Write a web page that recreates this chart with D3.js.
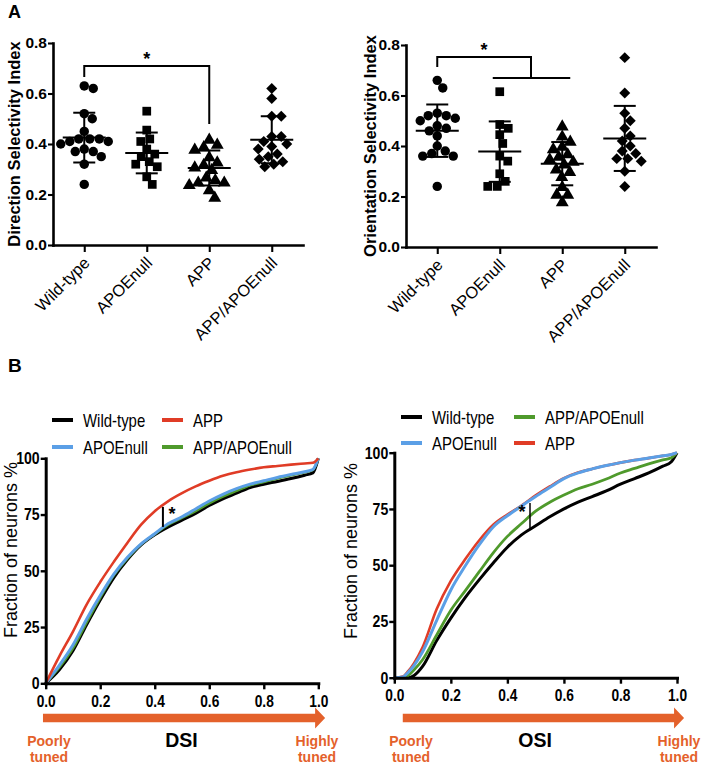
<!DOCTYPE html>
<html><head><meta charset="utf-8">
<script src="https://cdn.jsdelivr.net/npm/d3@7"></script>
<style>
body{margin:0;background:#fff}
svg{display:block}
text{font-family:"Liberation Sans",Arial,sans-serif;fill:#000}
</style>
</head><body>
<svg id="c" width="702" height="764"></svg>
<script>
// ---------------- DATA ----------------
const groups = ["Wild-type","APOEnull","APP","APP/APOEnull"];
const yTicksA = [0,0.2,0.4,0.6,0.8];

const dsiWT      = [0.63,0.62,0.52,0.50,0.45,0.42,0.42,0.42,0.41,0.41,0.40,0.38,0.37,0.37,0.35,0.32,0.24];
const dsiAPOE    = [0.53,0.455,0.42,0.41,0.38,0.36,0.35,0.33,0.32,0.31,0.27,0.24];
const dsiAPP     = [0.42,0.40,0.39,0.38,0.35,0.33,0.32,0.31,0.30,0.27,0.26,0.25,0.25,0.24,0.22,0.19];
const dsiAPPAPOE = [0.62,0.58,0.51,0.51,0.43,0.43,0.41,0.40,0.39,0.38,0.36,0.35,0.34,0.33,0.32,0.31];

const osiWT      = [0.66,0.63,0.53,0.52,0.52,0.51,0.50,0.48,0.47,0.46,0.44,0.40,0.38,0.37,0.36,0.36,0.24];
const osiAPOE    = [0.615,0.485,0.47,0.445,0.41,0.36,0.34,0.29,0.26,0.24,0.24];
const osiAPP     = [0.48,0.44,0.42,0.40,0.39,0.37,0.36,0.35,0.34,0.33,0.31,0.30,0.28,0.24,0.21,0.21,0.18];
const osiAPPAPOE = [0.75,0.61,0.53,0.50,0.47,0.44,0.42,0.40,0.38,0.37,0.35,0.35,0.34,0.30,0.24];

const xTicksB = [0,0.2,0.4,0.6,0.8,1.0];
const yTicksB = [0,25,50,75,100];

const dsiGrid       = [0,0.05,0.1,0.15,0.2,0.25,0.3,0.35,0.4,0.45,0.5,0.55,0.6,0.65,0.7,0.75,0.8,0.85,0.9,0.95,0.98,1.0];
const cdfDsiWT      = [0,6,14.5,26,37,47,55,61.5,66,69.5,72.5,75.5,79,82,84.5,87,88.5,89.7,91,92.5,93.5,100];
const cdfDsiAPOE    = [0,8,17,28.5,39,48.5,56,62,66.5,71,74,77.5,81,84,86.5,88.5,90,91.5,92.8,94,95,100];
const cdfDsiAPP     = [0,12,23,35,45,54,62.5,70.5,76.5,81,84.5,87.5,90,92.2,93.8,95,96,96.6,97.2,97.7,98,100];
const cdfDsiAPPAPOE = [0,7,15.5,27,38,48,55.5,61.8,66.3,70.5,73.5,76.5,80,83,85.5,88,89.5,91,92.5,93.8,94.8,100];

const osiGrid       = [0,0.03,0.05,0.07,0.1,0.15,0.2,0.25,0.3,0.35,0.4,0.45,0.5,0.55,0.6,0.65,0.7,0.75,0.8,0.85,0.9,0.95,0.98,1.0];
const cdfOsiWT      = [0,0,0,1,5,16.5,26.5,35.5,43.5,51,58,63.5,67.5,71.5,75,78,80.5,83,86,88.5,91,94,96,100];
const cdfOsiAPOE    = [0,0.3,2.5,5.5,11.5,25.5,39,49.5,59,67,72,76.3,80.5,84.5,88.5,91,92.8,94.3,95.6,96.7,97.6,98.6,99.2,100];
const cdfOsiAPP     = [0,0.5,3,6.5,13.5,30.5,43,52.5,61,68,72.5,76.5,81,85,88.7,91.2,92.8,94.3,95.6,96.7,97.6,98.6,99.2,100];
const cdfOsiAPPAPOE = [0,0,1,3.5,8,19,30,38.5,47,55.5,62.8,68.5,74,78,81.2,84,86,88.3,91,93,95,96.8,97.8,100];

// ---------------- STYLE ----------------
const COL = {wt:"#000000", apoe:"#5b9fe6", app:"#e03c26", appapoe:"#4f9a2c", orange:"#e4612b"};
const NARROW = 0.83;
const svg = d3.select("#c");

// ---------------- HELPERS ----------------
function swarm(vals, y, diam){
  const pts = vals.map(v => ({v, y:y(v)})).sort((a,b)=>a.y-b.y);
  const placed = [];
  pts.forEach(p=>{
    let best = null;
    for(let k=0;k<120 && best===null;k++){
      const c = k===0 ? [0] : [k*0.5, -k*0.5];
      for(const dx of c){
        if(placed.every(q => (q.dx-dx)**2 + (q.y-p.y)**2 >= diam*diam)){ best = dx; break; }
      }
    }
    p.dx = best; placed.push(p);
  });
  return pts;
}

function styleAxis(sel, w){
  sel.select(".domain").attr("stroke","#000").attr("stroke-width",w).attr("stroke-linecap","square");
  sel.selectAll(".tick line").attr("stroke","#000").attr("stroke-width",w*0.8);
}

function narrowText(g, x, y, txt, size, opts={}){
  const t = g.append("text").attr("transform",`translate(${x},${y}) scale(${NARROW},1)`)
    .attr("font-size",size).text(txt);
  if(opts.bold) t.attr("font-weight","bold");
  if(opts.anchor) t.attr("text-anchor",opts.anchor);
  return t;
}

function panelA(cfg){
  const x = d3.scalePoint().domain(groups).range([cfg.x0, cfg.x1]).padding(0.5);
  const y = d3.scaleLinear().domain([0,0.8]).range([cfg.yb, cfg.yt]);
  const g = svg.append("g");

  const ya = g.append("g").attr("transform",`translate(${cfg.x0},0)`)
    .call(d3.axisLeft(y).tickValues(yTicksA).tickFormat(d3.format(".1f")).tickSize(5).tickSizeOuter(0).tickPadding(1));
  styleAxis(ya, 2.6);
  ya.selectAll(".tick text").attr("font-size",15.5).attr("font-weight","bold");

  const xa = g.append("g").attr("transform",`translate(0,${cfg.yb})`)
    .call(d3.axisBottom(x).tickSize(7).tickSizeOuter(0));
  styleAxis(xa, 2.6);
  xa.selectAll(".tick text").attr("font-size",16.5).attr("x",0).attr("y",0).attr("dy",0)
    .attr("text-anchor","end").attr("transform","translate(6,19) rotate(-45)");

  g.append("text").attr("transform",`translate(${cfg.titleX},${(cfg.yb+cfg.yt)/2}) rotate(-90)`)
    .attr("text-anchor","middle").attr("font-size",16.5).attr("font-weight","bold").text(cfg.title);

  const shapes = [d3.symbolCircle, d3.symbolSquare, d3.symbolTriangle, d3.symbolSquare];
  const sizes  = [70, 76, 72, 60];
  const rots   = [0,0,0,45];
  cfg.data.forEach((vals,i)=>{
    const cx = x(groups[i]);
    const pts = swarm(vals, y, 9.2);
    g.selectAll(null).data(pts).join("path")
      .attr("d", d3.symbol().type(shapes[i]).size(sizes[i]))
      .attr("transform", d => `translate(${cx+d.dx},${d.y + (i===2?1:0)}) rotate(${rots[i]})`)
      .attr("fill","#000");
    const m = d3.mean(vals), sd = d3.deviation(vals);
    const lines = [
      [cx-21.5, y(m), cx+21.5, y(m)],
      [cx-11, y(m+sd), cx+11, y(m+sd)],
      [cx-11, y(m-sd), cx+11, y(m-sd)],
      [cx, y(m+sd), cx, y(m-sd)]
    ];
    g.selectAll(null).data(lines).join("line")
      .attr("x1",d=>d[0]).attr("y1",d=>d[1]).attr("x2",d=>d[2]).attr("y2",d=>d[3])
      .attr("stroke","#000").attr("stroke-width",2);
  });
  cfg.bracket(g, x, y);
  return {x,y};
}

function panelB(cfg){
  const x = d3.scaleLinear().domain([0,1]).range([cfg.x0, cfg.x1]);
  const y = d3.scaleLinear().domain([0,100]).range([cfg.yb, cfg.yt]);
  const g = svg.append("g");

  const line = d3.line().x(d=>x(d[0])).y(d=>y(d[1])).curve(d3.curveMonotoneX);
  cfg.series.forEach(s=>{
    g.append("path").datum(cfg.grid.map((v,i)=>[v, s.vals[i]]))
      .attr("d", line).attr("fill","none").attr("stroke", s.color)
      .attr("stroke-width", s.w).attr("stroke-linejoin","round");
  });

  const ya = g.append("g").attr("transform",`translate(${cfg.x0},0)`)
    .call(d3.axisLeft(y).tickValues(yTicksB).tickSize(5).tickSizeOuter(0).tickPadding(1));
  styleAxis(ya, 3);
  ya.selectAll(".tick text").attr("font-size",17).attr("font-weight","bold")
    .attr("x",0).attr("transform",`translate(-6,0) scale(${NARROW},1)`);

  const xa = g.append("g").attr("transform",`translate(0,${cfg.yb})`)
    .call(d3.axisBottom(x).tickValues(xTicksB).tickFormat(d3.format(".1f")).tickSize(6).tickSizeOuter(0).tickPadding(7));
  styleAxis(xa, 3);
  xa.selectAll(".tick text").attr("font-size",16).attr("font-weight","bold")
    .attr("y",0).attr("transform",`translate(0,12) scale(0.86,1)`);

  g.append("text").attr("transform",`translate(${cfg.titleX},${cfg.titleY}) rotate(-90)`)
    .attr("text-anchor","middle").attr("font-size",18).text("Fraction of neurons %");

  // arrow
  const ay = 718, ax0 = x(cfg.arrowFrom), ax1 = x(1.025), hl = 10;
  g.append("path")
    .attr("d", `M${ax0},${ay-4.3}L${ax1-hl},${ay-4.3}L${ax1-hl},${ay-10.5}L${ax1},${ay}L${ax1-hl},${ay+10.5}L${ax1-hl},${ay+4.3}L${ax0},${ay+4.3}Z`)
    .attr("fill", COL.orange);
  g.append("text").attr("x",(cfg.x0+cfg.x1)/2 - 0.5).attr("y",746.5).attr("text-anchor","middle")
    .attr("font-size",19.5).attr("font-weight","bold").text(cfg.label);
  [["Poorly",746],["tuned",762]].forEach(([t,yy])=>{
    g.append("text").attr("x",cfg.poorX).attr("y",yy).attr("text-anchor","middle")
      .attr("font-size",14).attr("font-weight","bold").style("fill",COL.orange).text(t);
  });
  [["Highly",746],["tuned",762]].forEach(([t,yy])=>{
    g.append("text").attr("x",cfg.highX).attr("y",yy).attr("text-anchor","middle")
      .attr("font-size",14).attr("font-weight","bold").style("fill",COL.orange).text(t);
  });

  // legend
  cfg.legend.forEach(L=>{
    g.append("line").attr("x1",L.x).attr("x2",L.x+21).attr("y1",L.y).attr("y2",L.y)
      .attr("stroke",L.color).attr("stroke-width",4);
    narrowText(g, L.x+31, L.y+6.5, L.name, 18);
  });

  // significance
  g.append("line").attr("x1",x(cfg.sig.x)).attr("x2",x(cfg.sig.x))
    .attr("y1",y(cfg.sig.y0)).attr("y2",y(cfg.sig.y1)).attr("stroke","#000").attr("stroke-width",cfg.sig.w);
  g.append("text").attr("x",x(cfg.sig.x)+cfg.sig.sx).attr("y",y(cfg.sig.y0)+cfg.sig.sy)
    .attr("text-anchor","middle").attr("font-size",18).attr("font-weight","bold").text("*");
}

// ---------------- PANEL LABELS ----------------
svg.append("text").attr("x",8).attr("y",18).attr("font-size",18).attr("font-weight","bold").text("A");
svg.append("text").attr("x",8).attr("y",372).attr("font-size",19).attr("font-weight","bold").text("B");

// ---------------- PANEL A ----------------
panelA({
  x0:53, x1:303, yb:245, yt:43, titleX:20, title:"Direction Selectivity Index",
  data:[dsiWT, dsiAPOE, dsiAPP, dsiAPPAPOE],
  bracket:(g,x,y)=>{
    const a = x(groups[0]), b = x(groups[2]);
    g.append("path").attr("d",`M${a},${y(0.665)}V${y(0.709)}H${b}V${y(0.479)}`)
      .attr("fill","none").attr("stroke","#000").attr("stroke-width",2);
    g.append("text").attr("x",(a+b)/2).attr("y",y(0.709)-1).attr("text-anchor","middle")
      .attr("font-size",18).attr("font-weight","bold").text("*");
  }
});
panelA({
  x0:406, x1:656, yb:247, yt:45, titleX:376, title:"Orientation Selectivity Index",
  data:[osiWT, osiAPOE, osiAPP, osiAPPAPOE],
  bracket:(g,x,y)=>{
    const a = x(groups[0]), m = (x(groups[1])+x(groups[2]))/2;
    g.append("path").attr("d",`M${a},${y(0.713)}V${y(0.752)}H${m}V${y(0.669)}`)
      .attr("fill","none").attr("stroke","#000").attr("stroke-width",2);
    g.append("line").attr("x1",x(groups[1])-7).attr("x2",x(groups[2])+8)
      .attr("y1",y(0.669)).attr("y2",y(0.669)).attr("stroke","#000").attr("stroke-width",2);
    g.append("text").attr("x",(a+m)/2).attr("y",y(0.752)-1).attr("text-anchor","middle")
      .attr("font-size",18).attr("font-weight","bold").text("*");
  }
});

// ---------------- PANEL B ----------------
panelB({
  x0:45.7, x1:318.3, yb:683.3, yt:458.3, titleX:16.5, titleY:550, label:"DSI",
  grid: dsiGrid, arrowFrom:-0.01, poorX:49, highX:317,
  series:[
    {vals:cdfDsiWT, color:COL.wt, w:3},
    {vals:cdfDsiAPPAPOE, color:COL.appapoe, w:2.5},
    {vals:cdfDsiAPOE, color:COL.apoe, w:3},
    {vals:cdfDsiAPP, color:COL.app, w:2.6}
  ],
  legend:[
    {x:52, y:420, color:COL.wt, name:"Wild-type"},
    {x:162, y:420, color:COL.app, name:"APP"},
    {x:52, y:447, color:COL.apoe, name:"APOEnull"},
    {x:162, y:447, color:COL.appapoe, name:"APP/APOEnull"}
  ],
  sig:{x:0.43, y0:78.4, y1:69.5, w:2, sx:9, sy:13}
});
panelB({
  x0:394.3, x1:677, yb:677.7, yt:452.7, titleX:357, titleY:551, label:"OSI",
  grid: osiGrid, arrowFrom:0.03, poorX:411, highX:679,
  series:[
    {vals:cdfOsiWT, color:COL.wt, w:3},
    {vals:cdfOsiAPPAPOE, color:COL.appapoe, w:2.8},
    {vals:cdfOsiAPP, color:COL.app, w:2.6},
    {vals:cdfOsiAPOE, color:COL.apoe, w:3}
  ],
  legend:[
    {x:401, y:417, color:COL.wt, name:"Wild-type"},
    {x:514, y:417, color:COL.appapoe, name:"APP/APOEnull"},
    {x:401, y:443, color:COL.apoe, name:"APOEnull"},
    {x:514, y:443, color:COL.app, name:"APP"}
  ],
  sig:{x:0.48, y0:77.6, y1:66.1, w:1.5, sx:-8, sy:15}
});
</script>
</body></html>
